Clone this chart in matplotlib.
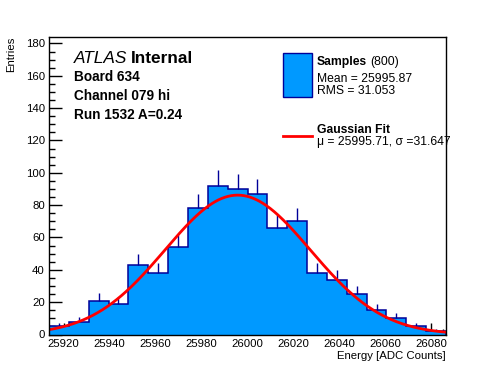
import numpy as np
import matplotlib
matplotlib.use("Agg")
import matplotlib.pyplot as plt
from matplotlib.ticker import MultipleLocator
from matplotlib.patches import Rectangle
from matplotlib.lines import Line2D

# ---- data ----
x_min, x_max = 25913.6, 26086.4
n_bins = 20
counts = [5, 8, 21, 19, 43, 38, 54, 78, 92, 90, 87, 66, 70, 38, 34, 25, 15, 10, 5, 2]
fit_mu = 25995.71
fit_sigma = 31.647
fit_amp = 86.2
y_max = 184
x_ticks = [25920, 25940, 25960, 25980, 26000, 26020, 26040, 26060, 26080]
y_ticks = [0, 20, 40, 60, 80, 100, 120, 140, 160, 180]
header_lines = ["Board 634", "Channel 079 hi", "Run 1532 A=0.24"]
n_samples = 800
mean_txt = "Mean = 25995.87"
rms_txt = "RMS = 31.053"
fit_txt = "\u03bc = 25995.71, \u03c3 =31.647"

plt.rcParams['font.family'] = ['Liberation Sans', 'DejaVu Sans']

W, H = 496, 372
fig = plt.figure(figsize=(W / 100, H / 100), dpi=100)
L, R, T, B = 49, 446, 37, 334.5
ax = fig.add_axes([L / W, 1 - B / H, (R - L) / W, (B - T) / H])

fill_c = '#0099ff'
edge_c = '#000099'

edges = np.linspace(x_min, x_max, n_bins + 1)
centers = 0.5 * (edges[:-1] + edges[1:])
cnt = np.array(counts, dtype=float)
ax.stairs(cnt, edges, fill=True, facecolor=fill_c, edgecolor='none', zorder=2)
ax.stairs(cnt, edges, fill=False, edgecolor=edge_c, linewidth=1.1, zorder=3)
ax.vlines(centers, cnt, cnt + np.sqrt(cnt), color=edge_c, linewidth=1.0, zorder=3)

xs = np.linspace(x_min, x_max, 500)
ys = fit_amp * np.exp(-0.5 * ((xs - fit_mu) / fit_sigma) ** 2)
ax.plot(xs, ys, color='red', linewidth=2, zorder=4)

ax.set_xlim(x_min, x_max)
ax.set_ylim(0, y_max)
ax.set_xticks(x_ticks)
ax.set_yticks(y_ticks)
ax.xaxis.set_minor_locator(MultipleLocator(5))
ax.yaxis.set_minor_locator(MultipleLocator(5))
ax.tick_params(which='both', direction='in', top=False, right=False, labelsize=8.2, width=1, colors='black')
ax.tick_params(which='major', length=9, pad=3)
ax.tick_params(which='minor', length=4.5)
for s in ax.spines.values():
    s.set_linewidth(1.0)
    s.set_zorder(5)

def fx(px):
    return px / W

def fy(py):
    return 1 - py / H

fig.text(fx(16), fy(37), "Entries", rotation=90, ha='right', va='top', fontsize=8.2)
fig.text(fx(446), fy(359), "Energy [ADC Counts]", ha='right', va='baseline', fontsize=8.2)

# ATLAS header
t1 = fig.text(fx(74), fy(63.3), "ATLAS", fontsize=12.4, style='italic', va='baseline')
fig.canvas.draw()
bb = t1.get_window_extent()
fig.text(bb.x1 / W + 4 / W, fy(63.3), "Internal", fontsize=12.4, weight='bold', va='baseline')
for i, s in enumerate(header_lines):
    fig.text(fx(74), fy([81, 100, 119][i]), s, fontsize=9.8, weight='bold', va='baseline')

# legend
fig.patches.append(Rectangle((fx(283.3), fy(96.7)), (311.7 - 283.3) / W, (96.7 - 53.3) / H,
                             transform=fig.transFigure, facecolor=fill_c, edgecolor=edge_c, linewidth=1.0))
fig.lines.append(Line2D([fx(283), fx(312)], [fy(135.7), fy(135.7)], transform=fig.transFigure,
                        color='red', linewidth=2))
ts = fig.text(fx(317), fy(65), "Samples", fontsize=8.7, weight='bold', va='baseline')
fig.canvas.draw()
bb = ts.get_window_extent()
fig.text(bb.x1 / W + 3 / W, fy(65), "(%d)" % n_samples, fontsize=8.7, va='baseline')
fig.text(fx(317), fy(81.7), mean_txt, fontsize=8.7, va='baseline')
fig.text(fx(317), fy(93.5), rms_txt, fontsize=8.7, va='baseline')
fig.text(fx(317), fy(132.7), "Gaussian Fit", fontsize=8.7, weight='bold', va='baseline')
fig.text(fx(317), fy(145), fit_txt, fontsize=8.7, va='baseline')

fig.savefig("out.png", dpi=100)
